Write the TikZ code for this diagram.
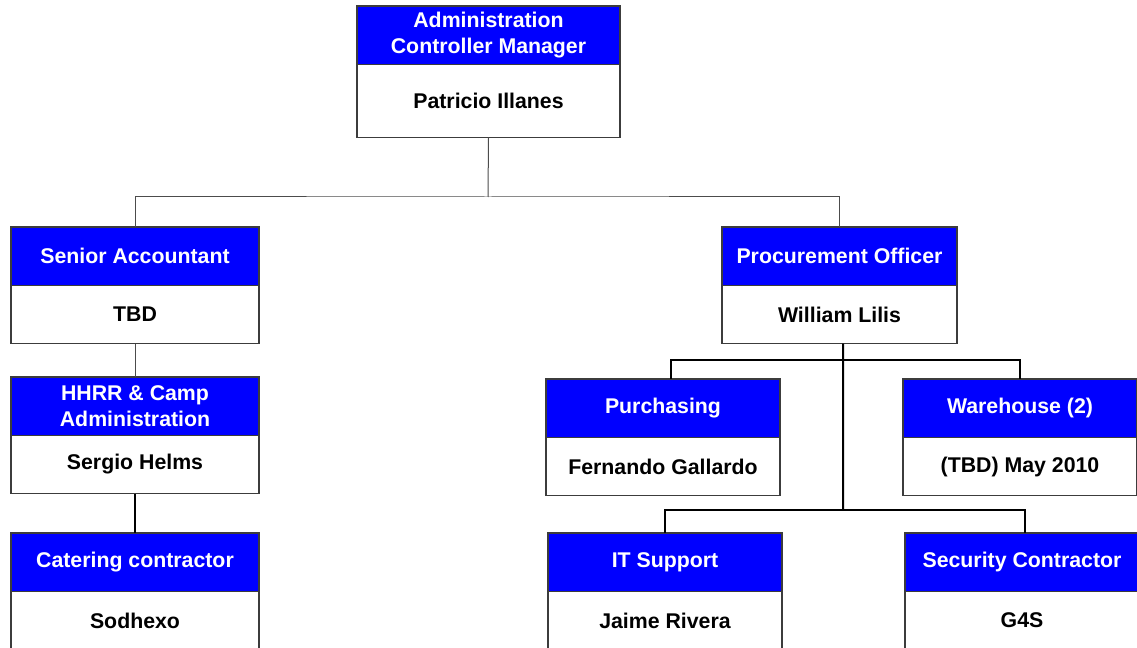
\documentclass[tikz,border=0pt]{standalone}
\usepackage{fontspec}
\setmainfont{Liberation Sans}
\usetikzlibrary{positioning}

\definecolor{headblue}{RGB}{0,0,255}
\definecolor{edgegray}{RGB}{60,60,60}

\begin{document}
\begin{tikzpicture}[
	x=1bp, y=-1bp,
	node distance=0pt,
	head/.style = {
		draw=edgegray, line width=1.2bp, rectangle, align=center,
		fill=headblue, text=white, minimum height=58.5bp,
		font=\fontsize{21.3bp}{26bp}\selectfont\bfseries,
		inner sep=0pt, outer sep=0pt, anchor=north west},
	body/.style = {
		draw=edgegray, line width=1.2bp, rectangle, align=center,
		fill=white, text=black, minimum height=58bp,
		font=\fontsize{21.3bp}{26bp}\selectfont\bfseries,
		inner sep=0pt, outer sep=0pt},
	wide/.style = {minimum width=248bp},
	narrow/.style = {minimum width=234bp},
	thinline/.style = {draw=black!70, line width=1bp},
	treeline/.style = {draw=black, line width=2bp}
]
\useasboundingbox (0,0) rectangle (1137,648);
\clip (0,0) rectangle (1137,648);

\node (adm)  [head, minimum width=263bp] at (357,6)  {Administration\\Controller Manager};
\node (admb) [body, minimum width=263bp, minimum height=73bp, below=of adm] {Patricio Illanes};

\node (acc)  [head, wide] at (11,227)  {Senior Accountant};
\node (accb) [body, wide, below=of acc] {TBD};
\node (hr)   [head, wide] at (11,377)  {HHRR \& Camp\\Administration};
\node (hrb)  [body, wide, below=of hr] {Sergio Helms};
\node (cat)  [head, wide] at (11,533)  {Catering contractor};
\node (catb) [body, wide, below=of cat] {Sodhexo};

\node (proc)  [head, minimum width=235bp] at (722,227) {Procurement Officer};
\node (procb) [body, minimum width=235bp, below=of proc] {William Lilis};
\node (pur)  [head, narrow] at (546,379) {Purchasing};
\node (purb) [body, narrow, below=of pur] {Fernando Gallardo};
\node (wh)   [head, narrow] at (903,379) {Warehouse (2)};
\node (whb)  [body, narrow, below=of wh] {(TBD) May 2010};
\node (it)   [head, narrow] at (548,533) {IT Support};
\node (itb)  [body, narrow, below=of it] {Jaime Rivera};
\node (sec)  [head, narrow] at (905,533) {Security Contractor};
\node (secb) [body, narrow, below=of sec] {G4S};

% junction points of the branch lines
\coordinate (top) at (488,197);
\coordinate (bus1) at (843,360);
\coordinate (bus2) at (843,510);

\draw[thinline] (admb.south) -- (top);
\draw[thinline] (acc.north) |- (top) -| (proc.north);
\draw[thinline] (accb.south) -- (hr.north);
\draw[treeline] (hrb.south) -- (cat.north);

\draw[treeline] ([xshift=3.5bp]procb.south) -- (bus2);
\draw[treeline] ([xshift=8bp]pur.north) |- (bus1) -| (wh.north);
\draw[treeline] (it.north) |- (bus2) -| ([xshift=3bp]sec.north);
\end{tikzpicture}
\end{document}
